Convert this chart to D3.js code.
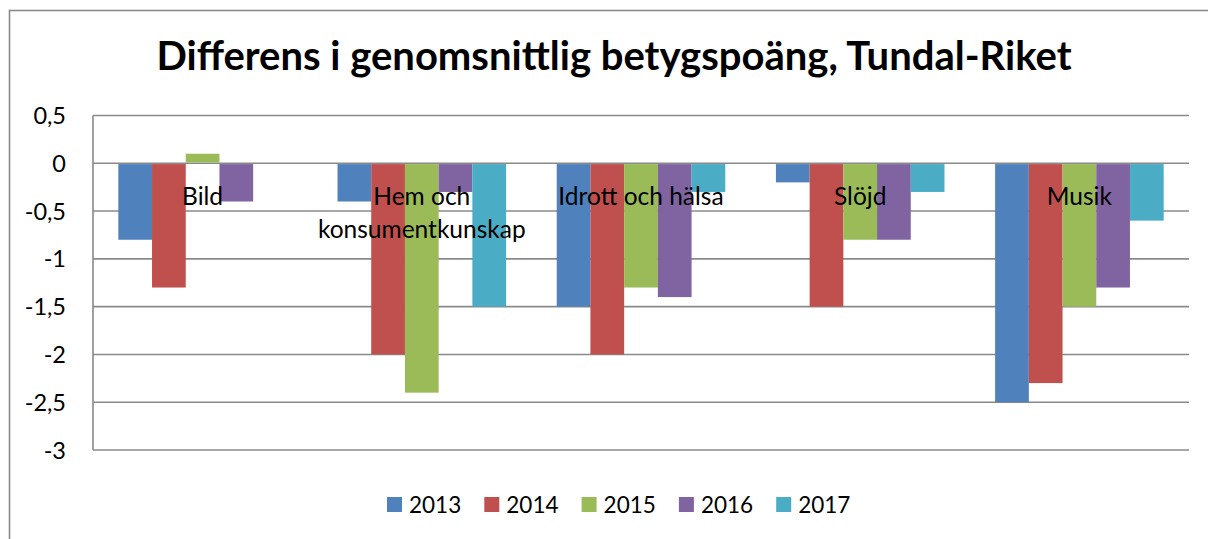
<!DOCTYPE html>
<html>
<head>
<meta charset="utf-8">
<script src="https://cdn.jsdelivr.net/npm/d3@7"></script>
<style>
  body { margin: 0; background: #fff; }
  svg { display: block; font-family: Lato, "Open Sans", sans-serif; }
</style>
</head>
<body>
<svg id="chart"></svg>
<script>
const width = 1208;
const height = 539;

const categories = ["Bild", "Hem och konsumentkunskap", "Idrott och hälsa", "Slöjd", "Musik"];
// label as it is wrapped inside the plot
const categoryLines = [["Bild"], ["Hem och", "konsumentkunskap"], ["Idrott och hälsa"], ["Slöjd"], ["Musik"]];
const years = ["2013", "2014", "2015", "2016", "2017"];

const values2013 = [-0.8, -0.4, -1.5, -0.2, -2.5];
const values2014 = [-1.3, -2.0, -2.0, -1.5, -2.3];
const values2015 = [0.1, -2.4, -1.3, -0.8, -1.5];
const values2016 = [-0.4, -0.3, -1.4, -0.8, -1.3];
const values2017 = [0, -1.5, -0.3, -0.3, -0.6];
const seriesValues = [values2013, values2014, values2015, values2016, values2017];

const yTicks = [0.5, 0, -0.5, -1, -1.5, -2, -2.5, -3];
const colors = ["#4F81BD", "#C0504D", "#9BBB59", "#8064A2", "#4BACC6"];

const title = "Differens i genomsnittlig betygspoäng, Tundal-Riket";

const svg = d3.select("#chart").attr("width", width).attr("height", height);

// outer chart border (runs off the right/bottom of the picture)
svg.append("rect")
  .attr("x", 9.5).attr("y", 10.5)
  .attr("width", 1230).attr("height", 560)
  .attr("fill", "#fff")
  .attr("stroke", "#8a8a8a")
  .attr("stroke-width", 1.6);

const plot = { left: 93, right: 1189 };

const x = d3.scaleBand()
  .domain(categories)
  .range([plot.left, plot.right])
  .paddingInner(0.231)
  .paddingOuter(0.1155);

const xSub = d3.scaleBand()
  .domain(years)
  .range([0, x.bandwidth()]);

const y = d3.scaleLinear()
  .domain([-3, 0.5])
  .range([450, 115.5]);

const color = d3.scaleOrdinal().domain(years).range(colors);

// title
svg.append("text")
  .attr("x", 614)
  .attr("y", 70)
  .attr("text-anchor", "middle")
  .attr("font-size", 40)
  .attr("font-weight", "bold")
  .attr("fill", "#000")
  .text(title);

// gridlines
svg.append("g")
  .selectAll("line")
  .data(yTicks)
  .join("line")
  .attr("x1", plot.left)
  .attr("x2", plot.right)
  .attr("y1", (d) => y(d))
  .attr("y2", (d) => y(d))
  .attr("stroke", "#8a8a8a")
  .attr("stroke-width", 1.6);

// bars
const rows = [];
years.forEach((yr, si) => {
  categories.forEach((c, ci) => {
    rows.push({ year: yr, category: c, value: seriesValues[si][ci] });
  });
});

svg.append("g")
  .selectAll("rect")
  .data(rows.filter((d) => d.value !== 0))
  .join("rect")
  .attr("x", (d) => x(d.category) + xSub(d.year))
  .attr("y", (d) => Math.min(y(d.value), y(0) + 0.8))
  .attr("width", xSub.bandwidth())
  .attr("height", (d) => Math.abs(y(d.value) - y(0)) - 0.8)
  .attr("fill", (d) => color(d.year));

// y axis line
svg.append("line")
  .attr("x1", plot.left).attr("x2", plot.left)
  .attr("y1", y(0.5)).attr("y2", y(-3))
  .attr("stroke", "#8a8a8a")
  .attr("stroke-width", 1.6);

// y tick labels
const fmt = (d) => String(d).replace(".", ",");
svg.append("g")
  .selectAll("text")
  .data(yTicks)
  .join("text")
  .attr("x", 66)
  .attr("y", (d) => y(d) + 8.5)
  .attr("text-anchor", "end")
  .attr("font-size", 23.5)
  .attr("fill", "#000")
  .text(fmt);

// category labels inside the plot
const labels = svg.append("g")
  .selectAll("text")
  .data(categories)
  .join("text")
  .attr("text-anchor", "middle")
  .attr("font-size", 24.5)
  .attr("fill", "#000");

labels.selectAll("tspan")
  .data((d, i) => categoryLines[i].map((t) => ({ t, c: d })))
  .join("tspan")
  .attr("x", (d) => x(d.c) + x.bandwidth() / 2)
  .attr("y", (d, i) => y(0) + 42 + i * 33)
  .text((d) => d.t);

// legend
const legend = svg.append("g")
  .selectAll("g")
  .data(years)
  .join("g")
  .attr("transform", (d, i) => `translate(${387 + i * 97.3},497)`);

legend.append("rect")
  .attr("width", 15)
  .attr("height", 15)
  .attr("fill", (d) => color(d));

legend.append("text")
  .attr("x", 22)
  .attr("y", 15.5)
  .attr("font-size", 22.5)
  .attr("fill", "#000")
  .text((d) => d);
</script>
</body>
</html>
